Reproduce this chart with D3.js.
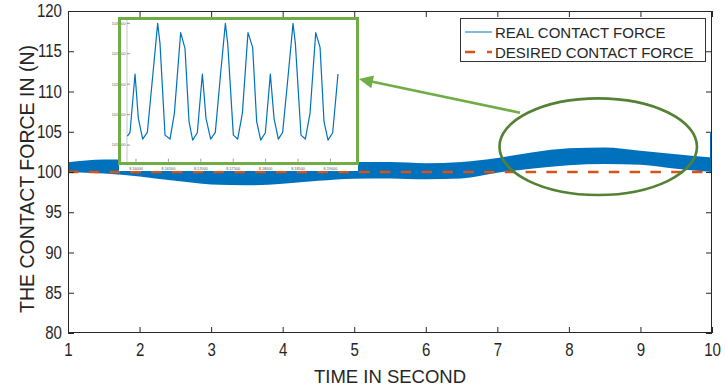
<!DOCTYPE html>
<html><head><meta charset="utf-8">
<script src="https://cdn.jsdelivr.net/npm/d3@7"></script>
<style>body{margin:0;background:#fff} svg{display:block} text{font-family:"Liberation Sans",Arial,Helvetica,sans-serif}</style>
</head><body><svg id="c" width="725" height="389"></svg>
<script>
// ---- data ----
const envT      = [1, 1.5, 2, 2.5, 3, 3.5, 4, 4.5, 5, 5.5, 6, 6.5, 7, 7.5, 8, 8.5, 9, 9.5, 10];
const envTop    = [101.2, 101.55, 101.55, 101.1, 100.7, 100.5, 100.6, 100.9, 101.25, 101.25, 101.1, 101.25, 101.75, 102.45, 102.95, 103.05, 102.65, 102.2, 101.8];
const envBottom = [100.0, 99.8, 99.45, 98.9, 98.45, 98.35, 98.55, 98.9, 99.15, 99.2, 99.1, 99.2, 99.9, 100.45, 100.85, 101.0, 100.9, 100.4, 100.0];
const spikeT = [10, 10];
const spikeF = [101.7, 104.8];
const desiredT = [1, 10];
const desiredF = [100, 100];
const xTicks = [1, 2, 3, 4, 5, 6, 7, 8, 9, 10];
const yTicks = [80, 85, 90, 95, 100, 105, 110, 115, 120];

const insetT = [8.15866, 8.15907, 8.15985, 8.16036, 8.16103, 8.16175, 8.16257, 8.16334, 8.16370, 8.16448,
                8.16525, 8.16592, 8.16689, 8.16756, 8.16818, 8.16874, 8.16946, 8.17024, 8.17080, 8.17152,
                8.17224, 8.17301, 8.17379, 8.17415, 8.17502, 8.17569, 8.17641, 8.17728, 8.17800, 8.17862,
                8.17924, 8.17996, 8.18073, 8.18130, 8.18196, 8.18263, 8.18346, 8.18423, 8.18459, 8.18546,
                8.18613, 8.18685, 8.18773, 8.18840, 8.18901, 8.18963, 8.19035, 8.19117];
const insetF = [101.148, 101.203, 102.167, 101.438, 101.099, 101.208, 102.123, 103.0, 102.671, 101.164,
                101.099, 101.521, 102.847, 102.589, 101.384, 101.082, 101.203, 102.167, 101.438, 101.099,
                101.208, 102.123, 103.0, 102.671, 101.164, 101.099, 101.521, 102.847, 102.605, 101.384,
                101.082, 101.203, 102.167, 101.438, 101.099, 101.208, 102.123, 103.0, 102.671, 101.164,
                101.099, 101.521, 102.847, 102.605, 101.384, 101.082, 101.203, 102.167];
const insetXTicks = [8.16, 8.165, 8.17, 8.175, 8.18, 8.185, 8.19];
const insetYTicks = [101, 101.5, 102, 102.5, 103];

const legendLabels = ["REAL CONTACT FORCE", "DESIRED CONTACT FORCE"];
const xTitle = "TIME IN SECOND";
const yTitle = "THE CONTACT FORCE IN (N)";

// annotation in data units
const ellipse = {t: 8.41, f: 103.15, rt: 1.38, rf: 6.0};
const arrowFrom = {t: 7.316, f: 107.37};
const arrowTo = {t: 5.066, f: 111.55};

// ---- layout ----
const L = 68, R = 712, T = 11, B = 333;
const BLUE = "#0072BD", ORANGE = "#D95319", AX = "#262626";
const svg = d3.select("#c");
const x = d3.scaleLinear().domain([1, 10]).range([L, R]);
const y = d3.scaleLinear().domain([80, 120]).range([B, T]);

// band
const env = envT.map((t, i) => ({t, hi: envTop[i], lo: envBottom[i]}));
svg.append("path").datum(env)
  .attr("d", d3.area().x(d => x(d.t)).y0(d => y(d.lo)).y1(d => y(d.hi)).curve(d3.curveMonotoneX))
  .attr("fill", BLUE);
svg.append("path").datum(spikeT.map((t, i) => ({t, f: spikeF[i]})))
  .attr("d", d3.line().x(d => x(d.t) - 1).y(d => y(d.f)))
  .attr("stroke", BLUE).attr("stroke-width", 2).attr("fill", "none");

// desired
svg.append("path").datum(desiredT.map((t, i) => ({t, f: desiredF[i]})))
  .attr("d", d3.line().x(d => x(d.t)).y(d => y(d.f)))
  .attr("stroke", ORANGE).attr("stroke-width", 2.6).attr("stroke-dasharray", "10.5,10.3").attr("fill", "none");

// axes box
const tl = 6;
const gx = svg.append("g").attr("transform", `translate(0,${B})`)
  .call(d3.axisBottom(x).tickValues(xTicks).tickSize(-tl).tickPadding(11).tickFormat(d3.format("d")));
const gxt = svg.append("g").attr("transform", `translate(0,${T})`)
  .call(d3.axisTop(x).tickValues(xTicks).tickSize(-tl).tickFormat(""));
const gy = svg.append("g").attr("transform", `translate(${L},0)`)
  .call(d3.axisLeft(y).tickValues(yTicks).tickSize(-tl).tickPadding(7).tickFormat(d3.format("d")));
const gyr = svg.append("g").attr("transform", `translate(${R},0)`)
  .call(d3.axisRight(y).tickValues(yTicks).tickSize(-tl).tickFormat(""));
[gx, gxt, gy, gyr].forEach(g => {
  g.select(".domain").remove();
  g.selectAll("line").attr("stroke", AX);
  g.selectAll("text").attr("fill", AX).attr("font-size", 17.5).attr("transform", "scale(0.86,1)")
    .attr("font-family", '"Liberation Sans",Arial,sans-serif');
});
svg.append("rect").attr("x", L + 0.5).attr("y", T + 0.5).attr("width", R - L - 1).attr("height", B - T - 1)
  .attr("fill", "none").attr("stroke", AX).attr("stroke-width", 1);

svg.append("text").attr("x", (L + R) / 2).attr("y", 383).attr("text-anchor", "middle")
  .attr("font-size", 18.5).attr("fill", AX).text(xTitle);
svg.append("text").attr("transform", `translate(34,179) rotate(-90)`).attr("text-anchor", "middle")
  .attr("font-size", 19.5).attr("fill", AX).text(yTitle);

// inset
const ix = d3.scaleLinear().domain([8.15861, 8.19225]).range([127, 345]);
const iy = d3.scaleLinear().domain([100.727, 103.05]).range([161.7, 20.3]);
svg.append("rect").attr("x", 119).attr("y", 17).attr("width", 239).attr("height", 154).attr("fill", "#fff");
const ig = svg.append("g");
ig.append("line").attr("x1", 127).attr("x2", 127).attr("y1", 20).attr("y2", 162).attr("stroke", "#bbb").attr("stroke-width", 0.8);
ig.selectAll(".iyt").data(insetYTicks).join("line")
  .attr("x1", 127).attr("x2", 130).attr("y1", d => iy(d)).attr("y2", d => iy(d)).attr("stroke", "#555").attr("stroke-width", 0.6);
ig.selectAll(".iyl").data(insetYTicks).join("text")
  .attr("x", 125.5).attr("y", d => iy(d) + 1.3).attr("text-anchor", "end").attr("font-size", 3.8).attr("fill", "#666")
  .text(d => d3.format("g")(d));
ig.selectAll(".ixt").data(insetXTicks).join("line")
  .attr("x1", d => ix(d)).attr("x2", d => ix(d)).attr("y1", 161.7).attr("y2", 158.7).attr("stroke", "#555").attr("stroke-width", 0.6);
ig.selectAll(".ixl").data(insetXTicks).join("text")
  .attr("x", d => ix(d)).attr("y", 169.5).attr("text-anchor", "middle").attr("font-size", 3.8).attr("fill", "#555")
  .text(d => d3.format("g")(d));
ig.append("path").datum(insetT.map((t, i) => ({t, f: insetF[i]})))
  .attr("d", d3.line().x(d => ix(d.t)).y(d => iy(d.f)))
  .attr("stroke", BLUE).attr("stroke-width", 1.2).attr("fill", "none").attr("stroke-linejoin", "round");
svg.append("rect").attr("x", 119.5).attr("y", 18.5).attr("width", 238).attr("height", 145)
  .attr("fill", "none").attr("stroke", "#70AD47").attr("stroke-width", 3);

// ellipse + arrow
svg.append("ellipse").attr("cx", x(ellipse.t)).attr("cy", y(ellipse.f))
  .attr("rx", x(ellipse.t + ellipse.rt) - x(ellipse.t)).attr("ry", y(ellipse.f) - y(ellipse.f + ellipse.rf))
  .attr("fill", "none").attr("stroke", "#548235").attr("stroke-width", 2.6);
const ax0 = x(arrowFrom.t), ay0 = y(arrowFrom.f), ax1 = x(arrowTo.t), ay1 = y(arrowTo.f);
const len = Math.hypot(ax0 - ax1, ay0 - ay1), ux = (ax0 - ax1) / len, uy = (ay0 - ay1) / len;
const hl = 14, hw = 6.5;
svg.append("line").attr("x1", ax0).attr("y1", ay0).attr("x2", ax1 + ux * hl * 0.9).attr("y2", ay1 + uy * hl * 0.9)
  .attr("stroke", "#70AD47").attr("stroke-width", 2.6);
svg.append("polygon").attr("points", [
  [ax1, ay1],
  [ax1 + ux * hl - uy * hw, ay1 + uy * hl + ux * hw],
  [ax1 + ux * hl + uy * hw, ay1 + uy * hl - ux * hw]].map(p => p.join(",")).join(" "))
  .attr("fill", "#70AD47");

// legend
const lg = svg.append("g");
lg.append("rect").attr("x", 460.5).attr("y", 18.5).attr("width", 245).attr("height", 43)
  .attr("fill", "#fff").attr("stroke", "#333").attr("stroke-width", 1);
lg.append("line").attr("x1", 465).attr("x2", 492).attr("y1", 32).attr("y2", 32).attr("stroke", BLUE).attr("stroke-width", 1);
lg.append("line").attr("x1", 465).attr("x2", 492).attr("y1", 52).attr("y2", 52).attr("stroke", ORANGE)
  .attr("stroke-width", 2.6).attr("stroke-dasharray", "10,12,6");
lg.selectAll(".lt").data(legendLabels).join("text")
  .attr("x", 495).attr("y", (d, i) => 37.5 + i * 20).attr("font-size", 15).attr("fill", AX).text(d => d);
</script></body></html>
